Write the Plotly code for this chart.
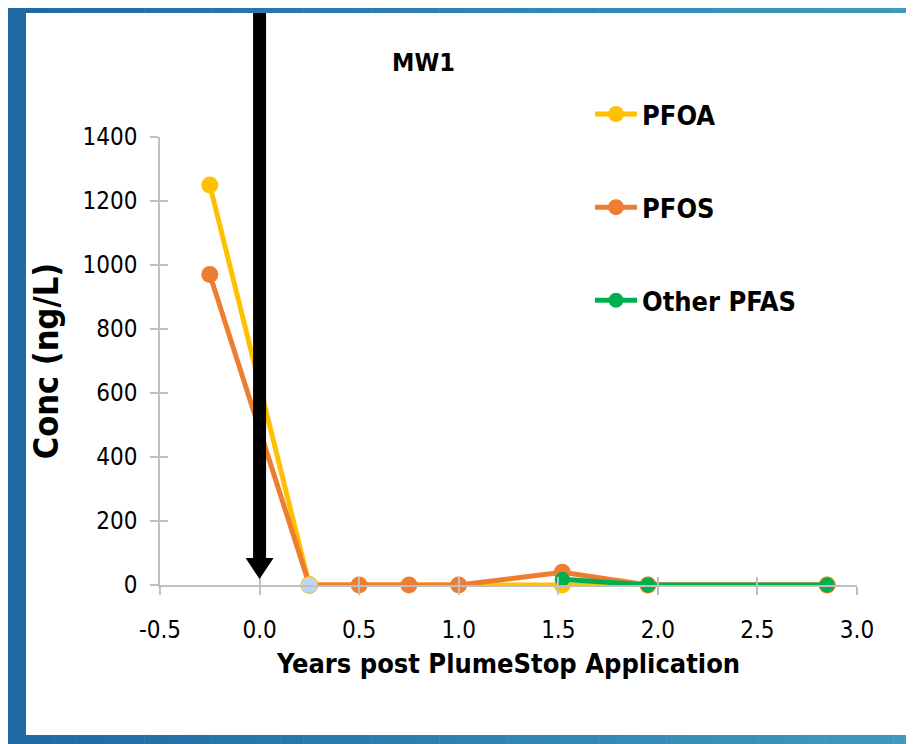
import plotly.graph_objects as go

# ---- data ----
pfoa_x = [-0.25, 0.25, 1.52, 1.95, 2.85]
pfoa_y = [1250, 0, 0, 0, 0]
pfos_x = [-0.25, 0.25, 0.5, 0.75, 1.0, 1.52, 1.95, 2.85]
pfos_y = [970, 0, 0, 0, 0, 40, 0, 0]
other_x = [1.52, 1.95, 2.85]
other_y = [18, 0, 0]
highlight_x = [0.25]
highlight_y = [0]
x_tickvals = [-0.5, 0.0, 0.5, 1.0, 1.5, 2.0, 2.5, 3.0]
x_ticktext = ["-0.5", "0.0", "0.5", "1.0", "1.5", "2.0", "2.5", "3.0"]
y_tickvals = [0, 200, 400, 600, 800, 1000, 1200, 1400]
application_year = 0.0

OFF = 8  # page body margin
W, H = 914 - OFF, 744 - OFF
L, T = 160 - OFF, 137 - OFF
R = W - (857 - OFF)
B = H - (585 - OFF)
PW, PH = W - L - R, H - T - B

FONT = "Liberation Sans Narrow, DejaVu Sans Condensed, Arial Narrow, sans-serif"

def px(xp):
    # reference-image pixel -> paper
    return (xp - OFF - L) / PW

def py(yp):
    return (H - B - (yp - OFF)) / PH

fig = go.Figure()
fig.add_trace(go.Scatter(x=pfoa_x, y=pfoa_y, name="PFOA", mode="lines+markers",
                         line=dict(color="#FFC000", width=5),
                         marker=dict(color="#FFC000", size=17),
                         legendgroup="a", cliponaxis=False))
fig.add_trace(go.Scatter(x=pfos_x, y=pfos_y, name="PFOS", mode="lines+markers",
                         line=dict(color="#ED7D31", width=5),
                         marker=dict(color="#ED7D31", size=17),
                         legendgroup="b", cliponaxis=False))
fig.add_trace(go.Scatter(x=other_x, y=other_y, name="Other PFAS", mode="lines+markers",
                         line=dict(color="#00B050", width=5),
                         marker=dict(color="#00B050", size=15),
                         legendgroup="c", cliponaxis=False))
fig.add_trace(go.Scatter(x=highlight_x, y=highlight_y, mode="markers", showlegend=False,
                         marker=dict(color="#BDD7EE", size=17, line=dict(color="#FFC000", width=1)),
                         cliponaxis=False))

shapes = []
# frame with gradient
c0 = (0x1F, 0x6A, 0xA5)
c1 = (0x40, 0x9A, 0xBD)
N = 40
x_start, x_end = 8, 916
for i in range(N):
    t = i / (N - 1)
    col = "rgb(%d,%d,%d)" % tuple(int(a + (b - a) * t) for a, b in zip(c0, c1))
    xa = x_start + (x_end - x_start) * i / N
    xb = x_start + (x_end - x_start) * (i + 1) / N + 0.5
    for (ya, yb) in [(0, 13), (735, 750)]:
        shapes.append(dict(type="rect", xref="paper", yref="paper",
                           x0=px(xa), x1=px(xb), y0=py(yb), y1=py(ya),
                           fillcolor=col, line=dict(width=0), layer="below"))
shapes.append(dict(type="rect", xref="paper", yref="paper",
                   x0=px(0), x1=px(26), y0=py(750), y1=py(0),
                   fillcolor="rgb(31,106,165)", line=dict(width=0), layer="below"))
shapes.append(dict(type="rect", xref="paper", yref="paper",
                   x0=px(911.5), x1=px(913), y0=py(735), y1=py(13),
                   fillcolor="#9CC3D9", line=dict(width=0), layer="below"))
# arrow
shapes.append(dict(type="rect", xref="x", yref="paper", xsizemode="pixel", xanchor=application_year,
                   x0=-6.5, x1=6.5, y0=py(560), y1=py(13),
                   fillcolor="black", line=dict(width=0)))
shapes.append(dict(type="path", xref="x", yref="paper", xsizemode="pixel", xanchor=application_year,
                   path="M -14 %f L 14 %f L 0 %f Z" % (py(558), py(558), py(579)),
                   fillcolor="black", line=dict(width=0)))

fig.update_layout(
    width=W, height=H,
    margin=dict(l=L, r=R, t=T, b=B),
    paper_bgcolor="white", plot_bgcolor="white",
    font=dict(family=FONT, color="black", size=24),
    shapes=shapes,
    showlegend=True,
    legend=dict(x=px(590), y=py(90), xanchor="left", yanchor="top",
                traceorder="grouped", tracegroupgap=55,
                font=dict(size=27, family=FONT, weight="bold"),
                bgcolor="rgba(0,0,0,0)", itemwidth=42),
    annotations=[dict(text="<b>MW1</b>", xref="paper", yref="paper", x=px(423), y=py(62),
                      showarrow=False, font=dict(size=25, family=FONT), xanchor="center", yanchor="middle")],
)
fig.update_xaxes(range=[-0.5, 3.0], tickvals=x_tickvals, ticktext=x_ticktext,
                 showgrid=False, zeroline=False, showline=True, linecolor="#BFBFBF", linewidth=1.5,
                 ticks="outside", ticklen=8, tickcolor="#BFBFBF", tickwidth=1.5,
                 tickfont=dict(size=24), ticklabelstandoff=14,
                 title=dict(text="<b>Years post PlumeStop Application</b>", font=dict(size=27), standoff=12))
fig.update_yaxes(range=[0, 1400], tickvals=y_tickvals,
                 showgrid=False, zeroline=False, showline=True, linecolor="#BFBFBF", linewidth=1.5,
                 ticks="outside", ticklen=8, tickcolor="#BFBFBF", tickwidth=1.5,
                 tickfont=dict(size=24), ticklabelstandoff=8,
                 title=dict(text="<b>Conc (ng/L)</b>", font=dict(size=34), standoff=14))
# inner half of cross ticks
fig.update_layout(
    xaxis2=dict(overlaying="x", range=[-0.5, 3.0], tickvals=x_tickvals, showticklabels=False,
                showgrid=False, zeroline=False, showline=False, ticks="inside", ticklen=8,
                tickcolor="#BFBFBF", tickwidth=1.5, side="bottom", anchor="y"),
    yaxis2=dict(overlaying="y", range=[0, 1400], tickvals=y_tickvals, showticklabels=False,
                showgrid=False, zeroline=False, showline=False, ticks="inside", ticklen=8,
                tickcolor="#BFBFBF", tickwidth=1.5, side="left", anchor="x"),
)
fig.add_trace(go.Scatter(x=[None], y=[None], xaxis="x2", yaxis="y2", showlegend=False, hoverinfo="skip"))
fig.write_html("out.html")
